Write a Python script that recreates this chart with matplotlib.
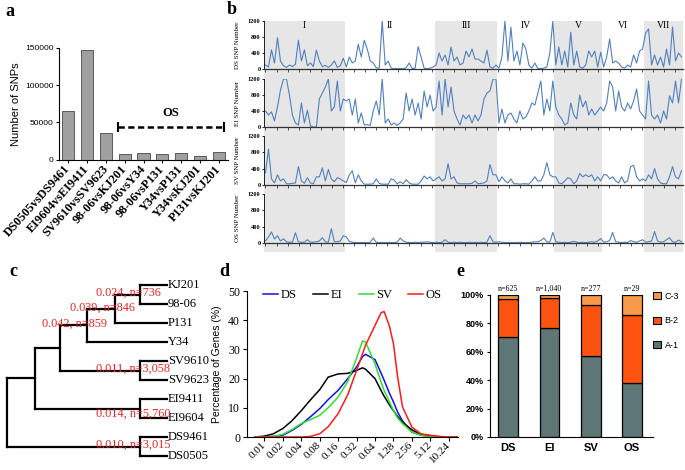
import numpy as np
import matplotlib
matplotlib.use('Agg')
import matplotlib.pyplot as plt
from matplotlib.patches import Patch

SERIF = 'Liberation Serif'
SANS = 'Liberation Sans'
W, H = 685, 470

# ---- panel a: SNPs between isolate pairs
pairs = ['DS0505vsDS9461', 'EI9604vsEI9411', 'SV9610vsSV9623', '98-06vsKJ201',
         '98-06vsY34', '98-06vsP131', 'Y34vsP131', 'Y34vsKJ201', 'P131vsKJ201']
snp_counts = [64700, 147300, 35300, 7300, 9000, 7300, 8200, 4700, 10000]

# ---- panel b: SNP number per window along the 7 chromosomes
chrom_names = ['I', 'II', 'III', 'IV', 'V', 'VI', 'VII']
chrom_windows = [27, 30, 21, 19, 16, 14, 13]
ds_snps = [100, 50, 480, 150, 780, 200, 80, 40, 100, 60, 120, 720, 200, 480, 80, 150, 60, 470, 200, 60,
           90, 40, 100, 200, 40, 80, 270,
           50, 300, 150, 200, 620, 300, 720, 500, 200, 150, 30, 20, 1200, 100, 200, 20, 10, 10, 10, 10,
           30, 150, 10, 20, 560, 300, 20, 10, 20, 50,
           100, 400, 200, 350, 100, 550, 200, 300, 100, 150, 450, 300, 500, 250, 250, 200, 150, 470, 50, 20, 100,
           20, 300, 1200, 200, 1050, 200, 450, 100, 650, 500, 100, 20, 150, 10, 10, 20, 50, 400, 1200,
           100, 550, 100, 450, 50, 920, 100, 450, 50, 20, 100, 450, 300, 450, 50, 420,
           50, 300, 750, 150, 200, 150, 50, 20, 100, 50, 350, 150, 450, 500,
           900, 1000, 100, 350, 100, 300, 50, 500, 100, 1050, 200, 400, 300]
ei_snps = [400, 300, 380, 150, 500, 920, 1200, 1200, 800, 300, 100, 50, 600, 100, 420, 30, 0, 0, 700, 850,
           1000, 1200, 400, 500, 1150, 400, 700,
           650, 700, 300, 700, 100, 350, 50, 60, 40, 400, 650, 300, 1200, 100, 200, 50, 100, 40, 100, 200,
           850, 400, 700, 300, 600, 200, 900, 500, 800, 400,
           500, 1150, 300, 1200, 500, 1000, 400, 200, 50, 300, 200, 300, 100, 300, 150, 300, 700, 850, 900, 1200, 1200,
           100, 450, 100, 300, 350, 200, 100, 400, 200, 250, 400, 600, 550, 850, 1150, 300, 700, 400, 1150,
           500, 300, 200, 50, 100, 600, 300, 200, 800, 500, 650, 300, 450, 300, 400, 500,
           400, 600, 1150, 1000, 400, 900, 500, 400, 600, 450, 650, 950, 400, 300,
           200, 1150, 300, 200, 300, 100, 400, 200, 780, 600, 1150, 600, 1200]
sv_snps = [300, 880, 150, 50, 250, 100, 150, 30, 30, 40, 50, 450, 100, 40, 180, 50, 30, 200, 200, 420,
           100, 380, 150, 80, 180, 150, 100,
           60, 250, 350, 50, 250, 100, 20, 20, 20, 30, 150, 40, 20, 20, 20, 150, 120, 30, 80, 30,
           130, 50, 20, 20, 20, 100, 220, 150, 200, 100,
           150, 200, 100, 150, 520, 150, 200, 50, 30, 30, 30, 30, 40, 100, 30, 40, 50, 100, 500, 250, 250,
           80, 200, 100, 50, 150, 30, 30, 20, 30, 30, 20, 100, 200, 100, 100, 250, 550, 250, 200,
           200, 50, 30, 100, 180, 150, 30, 100, 280, 200, 250, 200, 250, 100, 200, 100,
           250, 250, 150, 200, 100, 50, 200, 50, 100, 450, 480, 200, 100, 150,
           100, 250, 150, 400, 150, 50, 30, 30, 200, 450, 200, 150, 350]
os_snps = [50, 150, 270, 100, 180, 50, 100, 30, 20, 20, 250, 30, 20, 20, 80, 20, 20, 30, 50, 130,
           30, 20, 350, 30, 30, 50, 180,
           150, 40, 20, 10, 10, 10, 10, 10, 20, 120, 20, 10, 10, 10, 10, 10, 10, 20, 120, 50,
           20, 10, 10, 20, 10, 20, 20, 30, 20, 10,
           20, 10, 20, 80, 20, 10, 20, 10, 20, 10, 10, 20, 10, 20, 10, 20, 10, 20, 180, 30, 20,
           30, 20, 10, 10, 10, 10, 10, 20, 10, 10, 10, 20, 30, 30, 60, 120, 30, 20, 260,
           30, 20, 10, 20, 10, 20, 40, 20, 10, 20, 10, 20, 30, 20, 50, 110,
           20, 30, 60, 260, 30, 20, 10, 20, 10, 60, 30, 20, 50, 80,
           20, 30, 50, 280, 50, 20, 30, 80, 130, 30, 20, 70, 30]

# ---- panel c: tree
tree_leaves = ['KJ201', '98-06', 'P131', 'Y34', 'SV9610', 'SV9623', 'EI9411', 'EI9604', 'DS9461', 'DS0505']
tree_nodes = {
    'E': ('KJ201', '98-06', 3.32),
    'D': ('E', 'P131', 2.69),
    'C': ('D', 'Y34', 1.99),
    'SV': ('SV9610', 'SV9623', 3.32),
    'B': ('C', 'SV', 1.32),
    'EI': ('EI9411', 'EI9604', 3.32),
    'A': ('B', 'EI', 0.69),
    'DS': ('DS9461', 'DS0505', 3.32),
    'root': ('A', 'DS', 0.0),
}
leaf_depth = 3.99
branch_labels = {'E': '0.024, n=736', 'D': '0.039, n=846', 'C': '0.042, n=859',
                 'SV': '0.011, n=3,058', 'EI': '0.014, n=5,760', 'DS': '0.010, n=3,015'}

# ---- panel d: distribution of values per gene
d_x = [0.007, 0.01, 0.014, 0.02, 0.028, 0.04, 0.057, 0.08, 0.11, 0.16, 0.23, 0.32, 0.4, 0.45,
       0.64, 0.8, 0.9, 1.1, 1.28, 1.5, 1.8, 2.56, 3.6, 5.12, 7.2, 10.24, 14]
d_ds = [0, 0, 0.2, 0.6, 2.2, 4.3, 7, 9.7, 12.8, 16, 20, 24, 27.5, 28.3,
        26.5, 22, 19.5, 15, 12, 8.5, 5.5, 1.7, 0.6, 0.2, 0, 0, 0]
d_ei = [0, 0.3, 1.1, 2.9, 5.5, 9, 12.8, 16.2, 20.5, 21.6, 21.8, 22.8, 23.7, 23.2,
        20, 16, 14, 11, 9, 7, 5, 2.5, 0.8, 0.3, 0.1, 0, 0]
d_sv = [0, 0, 0.2, 0.9, 2.5, 4.6, 6, 7.4, 10, 13.7, 19, 27, 32.9, 32.5,
        25, 19, 16, 12, 9.1, 6.5, 4.6, 1.7, 0.6, 0.1, 0, 0, 0]
d_os = [0, 0, 0, 0, 0, 0, 0.2, 1.1, 3.5, 8, 14.5, 22.8, 28.5, 31.5,
        38.2, 42.5, 43, 38, 32, 20.5, 10.3, 3.4, 1.1, 0.6, 0.2, 0, 0]
d_ticks = [0.01, 0.02, 0.04, 0.08, 0.16, 0.32, 0.64, 1.28, 2.56, 5.12, 10.24]

# ---- panel e: category proportions
groups = ['DS', 'EI', 'SV', 'OS']
group_n = ['n=625', 'n=1,040', 'n=277', 'n=29']
pct_a1 = [70.1, 76.5, 56.9, 37.9]
pct_b2 = [26.8, 21.6, 36.0, 48.3]
pct_c3 = [3.1, 1.9, 7.1, 13.8]

fig = plt.figure(figsize=(W / 100, H / 100), dpi=100)


def px_axes(l, t, r, b):
    return fig.add_axes([l / W, 1 - b / H, (r - l) / W, (b - t) / H])


# ================= a
ax = px_axes(59, 48, 228, 159.5)
xa = np.arange(len(pairs))
ax.bar(xa, snp_counts, width=0.65, color='#a0a0a0', edgecolor='#5a5a5a', linewidth=0.7)
ax.set_xlim(-0.5, len(pairs) - 0.5)
ax.set_ylim(0, 150000)
ax.set_yticks([0, 50000, 100000, 150000])
ax.set_yticklabels(['0', '50000', '100000', '150000'], fontfamily=SANS, fontsize=6)
ax.set_xticks(xa)
ax.set_xticklabels(pairs, rotation=48, ha='right', va='center', rotation_mode='anchor',
                   fontfamily=SERIF, fontweight='bold', fontsize=8.8)
ax.tick_params(axis='x', length=2.5, pad=3)
ax.tick_params(axis='y', length=2.5, pad=1.5)
for s in ['top', 'right']:
    ax.spines[s].set_visible(False)
ax.set_ylabel('Number of SNPs', fontfamily=SANS, fontsize=8, labelpad=3)
ax.plot([2.64, 8.28], [43300, 43300], color='black', lw=1.8, ls=(0, (2.5, 1.4)))
ax.plot([2.64, 8.28], [43300, 43300], ls='none', marker='|', color='black', ms=7, mew=1.5)
ax.text(5.46, 63000, 'OS', ha='center', va='center', fontfamily=SERIF, fontweight='bold', fontsize=9)

# ================= b
n_win = sum(chrom_windows)
xw = np.arange(n_win)
bounds = np.concatenate([[0], np.cumsum(chrom_windows)]) - 0.5
bg = px_axes(264, 21, 683, 252)
bg.set_xlim(-0.5, n_win - 0.5)
bg.axis('off')
for i in range(len(chrom_names)):
    if i % 2 == 0:
        bg.axvspan(bounds[i], bounds[i + 1], color='#e6e6e6', lw=0)

rows = [('DS', ds_snps, 21, 69), ('EI', ei_snps, 79, 127),
        ('SV', sv_snps, 136, 185), ('OS', os_snps, 194, 243)]
for k, (name, vals, t, b) in enumerate(rows):
    a = px_axes(264, t, 683, b)
    a.patch.set_alpha(0)
    a.plot(xw, vals, color='#5080c0', lw=0.8)
    a.set_xlim(-0.5, n_win - 0.5)
    a.set_ylim(0, 1200)
    a.set_yticks([0, 400, 800, 1200])
    a.set_yticklabels(['0', '400', '800', '1200'], fontfamily=SERIF, fontweight='bold', fontsize=4.6)
    a.set_xticks(np.arange(0, n_win, 3.7))
    a.set_xticklabels([])
    a.tick_params(axis='x', length=2, width=0.6, color='#333333')
    a.tick_params(axis='y', length=1.5, width=0.6, pad=1)
    for s in ['top', 'right']:
        a.spines[s].set_visible(False)
    a.spines['left'].set_linewidth(0.6)
    a.spines['bottom'].set_linewidth(0.9)
    a.spines['bottom'].set_color('#333333')
    a.set_ylabel(name + ' SNP Number', fontfamily=SERIF, fontsize=5)
    a.yaxis.set_label_coords(-0.057, 0.5)
    if k == 0:
        for i, cn in enumerate(chrom_names):
            a.text((bounds[i] + bounds[i + 1]) / 2, 1090, cn, ha='center', va='center',
                   fontfamily=SERIF, fontsize=7)

# ================= c
ax = px_axes(0, 275, 230, 465)
ax.set_xlim(-7.3 / 40, 222.7 / 40)
ax.set_ylim(9.47, -0.53)
ax.axis('off')


def node_pos(name):
    if name in tree_leaves:
        return leaf_depth, tree_leaves.index(name)
    c1, c2, d = tree_nodes[name]
    return d, (node_pos(c1)[1] + node_pos(c2)[1]) / 2


for name, (c1, c2, d) in tree_nodes.items():
    ys = []
    for c in (c1, c2):
        cx, cy = node_pos(c)
        ax.plot([d, cx], [cy, cy], color='black', lw=1.6, solid_capstyle='projecting')
        ys.append(cy)
    ax.plot([d, d], ys, color='black', lw=1.6, solid_capstyle='projecting')

for i, leaf in enumerate(tree_leaves):
    ax.text(leaf_depth + 0.03, i, leaf, ha='left', va='center', fontfamily=SERIF, fontsize=9)

for name, lab in branch_labels.items():
    nx, ny = node_pos(name)
    dx = -0.3 if len(lab) < 13 else -0.17
    dy = 0.25 if name == 'EI' else -0.08
    ax.text(nx + dx, ny + dy, lab, ha='center', va='center', color='#ee2222',
            fontfamily=SERIF, fontsize=8.8)

# ================= d
ax = px_axes(247, 291, 458, 437)
ax.set_xscale('log', base=2)
d_colors = {'DS': '#1010e8', 'EI': 'black', 'SV': '#30e030', 'OS': '#ff1a1a'}
for name, vals in [('DS', d_ds), ('EI', d_ei), ('SV', d_sv), ('OS', d_os)]:
    ax.plot(d_x, vals, color=d_colors[name], lw=1.1, label=name)
ax.set_xlim(0.0052, 14.5)
ax.set_ylim(0, 50)
ax.set_xticks(d_ticks)
ax.set_xticklabels([str(t) for t in d_ticks], rotation=45, ha='right', va='center',
                   rotation_mode='anchor', fontfamily=SERIF, fontsize=8)
ax.minorticks_off()
ax.set_yticks(range(0, 51, 10))
ax.set_yticklabels([str(v) for v in range(0, 51, 10)], fontfamily=SERIF, fontsize=8.5)
ax.tick_params(length=3, pad=2)
for s in ['top', 'right']:
    ax.spines[s].set_visible(False)
ax.set_ylabel('Percentage of Genes (%)', fontfamily=SANS, fontsize=7.5)
ax.yaxis.set_label_coords(-0.12, 0.5)
ax.legend(loc='center', bbox_to_anchor=(0.5, 0.97), ncol=4, frameon=False,
          prop={'family': SERIF, 'size': 9}, handlelength=1.2, handletextpad=0.2,
          columnspacing=1.3, borderaxespad=0, borderpad=0)

# ================= e
ax = px_axes(490, 295, 653, 437)
xe = np.arange(len(groups))
col_a, col_b, col_c = '#5e7676', '#fc5410', '#f89a4a'
ax.bar(xe, pct_a1, width=0.48, color=col_a, edgecolor='black', lw=0.9)
ax.bar(xe, pct_b2, width=0.48, bottom=pct_a1, color=col_b, edgecolor='black', lw=0.9)
ax.bar(xe, pct_c3, width=0.48, bottom=np.add(pct_a1, pct_b2), color=col_c, edgecolor='black', lw=0.9)
ax.set_xlim(-0.44, 3.51)
ax.set_ylim(0, 100)
ax.set_yticks(range(0, 101, 20))
ax.set_yticklabels([f'{v}%' for v in range(0, 101, 20)], fontfamily=SANS, fontweight='bold', fontsize=6.5)
ax.set_xticks(xe)
ax.set_xticklabels(groups, fontfamily=SANS, fontweight='bold', fontsize=8)
ax.tick_params(axis='x', length=0, pad=4)
ax.tick_params(axis='y', length=2.5, pad=2)
for s in ['top', 'right']:
    ax.spines[s].set_visible(False)
for i, n in enumerate(group_n):
    ax.text(i, 101.5, n, ha='center', va='bottom', fontfamily=SERIF, fontsize=5.8)
handles = [Patch(facecolor=col_c, edgecolor='black', lw=0.8, label='C-3'),
           Patch(facecolor=col_b, edgecolor='black', lw=0.8, label='B-2'),
           Patch(facecolor=col_a, edgecolor='black', lw=0.8, label='A-1')]
fig.legend(handles=handles, loc='upper left', bbox_to_anchor=(653 / W, 1 - 292 / H), frameon=False,
           prop={'family': SANS, 'size': 6.5}, handlelength=0.9, handleheight=0.8,
           labelspacing=1.7, handletextpad=0.4, borderaxespad=0, borderpad=0)

# panel letters
for lab, (px, py) in {'a': (10, 11), 'b': (232, 9), 'c': (13, 271), 'd': (224, 271), 'e': (460, 271)}.items():
    fig.text(px / W, 1 - py / H, lab, ha='center', va='center', fontfamily=SERIF,
             fontweight='bold', fontsize=13)

fig.savefig('out.png', dpi=100)
